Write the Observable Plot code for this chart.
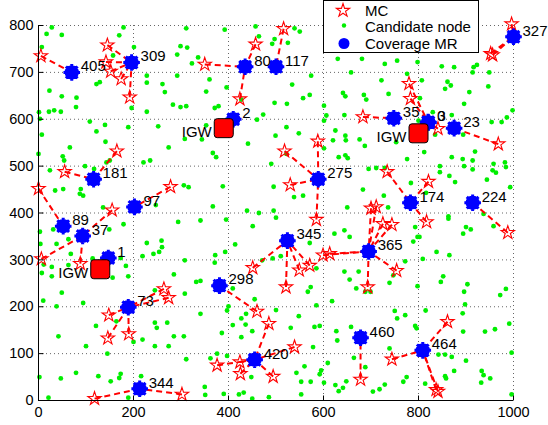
<!DOCTYPE html>
<html>
<head>
<meta charset="utf-8">
<script src="https://cdn.jsdelivr.net/npm/d3@7"></script>
<script src="https://cdn.jsdelivr.net/npm/@observablehq/plot@0.6"></script>
<style>
  body { margin: 0; background: #fff; }
  #chart { width: 548px; height: 425px; }
</style>
</head>
<body>
<div id="chart"></div>
<script>
// ---------- data ----------
const xTicks = [0, 200, 400, 600, 800, 1000];
const yTicks = [0, 100, 200, 300, 400, 500, 600, 700, 800];

// candidate nodes [x, y]
const candidates = [
  [28,796],[179,796],[17,782],[49,780],[170,779],[7,754],[201,754],[157,736],[129,679],[122,675],[228,693],[228,678],[23,661],[49,649],[80,646],[1,615],[22,616],[33,619],[47,616],[79,626],[196,624],[228,616],[3,601],[108,595],[140,588],[122,574],[7,567],[189,583],[141,552],[66,540],[0,526],[51,521],[54,512],[24,491],[98,500],[117,494],[143,508],[150,512],[221,508],[235,512],[35,448],[52,451],[89,451],[87,441],[94,437],[136,412],[247,417],
  [311,794],[392,791],[457,798],[464,777],[497,771],[492,761],[299,756],[313,753],[292,738],[336,732],[323,719],[292,693],[360,685],[261,675],[266,658],[353,659],[396,668],[283,631],[299,626],[311,628],[371,624],[379,628],[427,642],[497,635],[473,610],[460,599],[252,585],[353,587],[499,565],[308,558],[344,557],[441,548],[274,540],[367,528],[374,519],[490,505],[306,459],[316,455],[388,457],[495,456],[367,414],[439,405],[464,400],[495,405],
  [539,794],[550,787],[525,763],[630,729],[681,729],[729,718],[574,693],[658,700],[722,683],[534,674],[571,652],[557,645],[641,656],[646,649],[685,652],[690,642],[737,654],[601,629],[523,633],[606,608],[644,609],[601,597],[522,583],[548,570],[625,576],[646,565],[676,557],[620,555],[647,555],[687,543],[522,526],[632,519],[646,523],[651,517],[601,538],[695,494],[711,496],[729,496],[683,450],[557,437],[650,412],[727,437],[736,412],[538,434],
  [755,725],[798,722],[849,713],[875,711],[916,711],[923,716],[914,700],[949,700],[776,697],[807,683],[861,680],[868,672],[856,665],[947,670],[907,658],[803,645],[896,633],[998,619],[830,615],[870,609],[975,594],[986,604],[954,594],[800,597],[835,567],[894,567],[753,551],[812,530],[919,531],[776,515],[870,519],[893,515],[914,512],[958,505],[982,508],[845,500],[896,500],[914,493],[956,491],[963,486],[984,498],[845,487],[865,479],[877,466],[944,471],[784,464],[816,443],[993,455],[937,398],
  [3,360],[31,365],[4,334],[38,334],[63,344],[149,365],[179,376],[228,336],[68,313],[11,290],[7,272],[28,285],[28,265],[63,289],[114,303],[121,285],[184,287],[189,265],[156,262],[219,308],[242,313],[173,304],[49,230],[10,213],[38,201],[94,208],[245,235],[121,159],[164,169],[245,166],[249,155],[42,137],[100,116],[200,125],[145,100],[219,130],[245,116],[47,47],[79,59],[2,50],[126,52],[152,41],[170,48],[173,57],[21,6],[189,6],[216,52],
  [294,381],[341,384],[395,386],[451,372],[500,390],[259,341],[260,327],[254,317],[414,333],[393,317],[372,310],[308,299],[371,294],[471,299],[493,303],[285,269],[332,253],[341,255],[409,239],[308,228],[455,216],[400,201],[397,192],[500,193],[341,185],[437,185],[427,175],[271,166],[409,161],[436,162],[450,148],[386,144],[285,137],[306,137],[427,135],[274,116],[311,88],[362,90],[376,100],[397,95],[448,50],[350,29],[351,12],[390,14],[422,13],[432,17],[450,4],[485,7],
  [623,356],[644,363],[655,349],[571,336],[510,308],[585,282],[644,275],[674,275],[655,258],[739,251],[669,239],[573,242],[567,232],[688,232],[699,232],[618,212],[585,203],[548,180],[592,159],[581,157],[531,155],[627,148],[658,157],[629,128],[578,114],[739,111],[609,80],[664,91],[688,71],[560,73],[543,59],[592,56],[595,64],[553,40],[573,40],[601,38],[625,33],[648,41],[641,27],[632,20],[553,13],[704,19],[718,24],[729,34],
  [863,393],[863,388],[793,370],[900,370],[910,365],[894,356],[798,349],[802,349],[789,339],[958,372],[838,317],[865,310],[772,297],[809,302],[747,267],[852,265],[847,253],[798,244],[903,248],[896,232],[984,238],[972,225],[898,205],[750,191],[815,192],[772,182],[893,186],[755,175],[991,164],[793,159],[796,154],[894,147],[940,147],[961,152],[842,98],[856,98],[870,93],[900,85],[996,102],[875,63],[775,50],[768,40],[856,52],[858,47],[814,36],[933,63],[937,54],[951,47],[932,38],[996,13]
];

// coverage mesh routers
const mrLabel = ["405","309","80","117","2","327","35","0","3","23","181","97","275","174","224","89","37","1","345","365","298","73","460","464","420","344"];
const mrX =     [70,  196,  435, 500,  410,1000, 748, 820, 821, 875, 116, 202, 589, 783, 914, 52,  93,  147, 524, 695, 381, 189, 678, 809, 455, 213];
const mrY =     [700, 721,  712, 712,  600, 776, 602, 594, 593, 581, 472, 413, 472, 422, 422, 372, 351, 304, 341, 318, 245, 199, 134, 107, 87,  25];

// mesh clients and the MR each one attaches to
const mcX  = [5,  145, 142, 152, 174, 192, 350, 457, 424, 516, 996, 952, 956, 683, 780, 783, 841, 968, 588, 518, 530, 585, 734, 821, 817, 700, 711, 725, 744, 599, 613, 693, 754, 988, 165, 55,  0,   278, 155, 6,   88,  148, 146, 190, 264, 274, 118, 302, 451, 521, 549, 571, 460, 485, 376, 424, 425, 494, 539, 678, 744, 861, 837, 841];
const mcY  = [735,758, 722, 702, 686, 647, 717, 760, 643, 793, 803, 740, 737, 605, 676, 644, 580, 547, 553, 532, 460, 386, 488, 467, 381, 410, 413, 377, 375, 310, 313, 242, 277, 358, 532, 488, 452, 456, 406, 302, 292, 182, 133, 142, 238, 219, 4,   13,  283, 242, 278, 288, 190, 164, 75,  82,  57,  51,  114, 45,  88,  168, 23,  19];
const mcTo = ["405","309","309","309","309","309","80","80","80","117","327","327","327","35","0","0","3","23","275","275","275","275","174","174","174","365","365","365","365","365","365","365","365","224","181","181","89","97","37","37","37","73","73","73","73","73","344","344","345","345","345","345","298","420","420","420","420","420","420","460","464","464","464","464"];

// internet gateways
const igwX = [390, 130, 800];
const igwY = [581, 280, 570];
const igwText = "IGW";

// legend entries
const legendItems = ["MC", "Candidate node", "Coverage MR"];

// ---------- tables ----------
const mr = mrLabel.map((label, i) => ({label, x: mrX[i], y: mrY[i]}));
const mc = mcX.map((x, i) => ({x, y: mcY[i], to: mcTo[i]}));
const links = mc.map(d => {
  const j = mrLabel.indexOf(d.to);
  return {x1: d.x, y1: d.y, x2: mrX[j], y2: mrY[j]};
});
const igw = igwX.map((x, i) => ({x, y: igwY[i]}));

// ---------- custom symbols ----------
const mrSymbol = {
  draw(ctx, size) {
    const r = Math.sqrt(size / Math.PI);
    const rc = r * 0.68;
    ctx.moveTo(rc, 0);
    ctx.arc(0, 0, rc, 0, 2 * Math.PI);
    for (let k = 0; k < 8; k++) {
      const a = k * Math.PI / 4;
      ctx.moveTo(0, 0);
      ctx.lineTo(r * Math.cos(a), r * Math.sin(a));
    }
  }
};
const roundSquare = {
  draw(ctx, size) {
    const h = Math.sqrt(size / Math.PI);
    const c = 3;
    ctx.moveTo(-h + c, -h);
    ctx.lineTo(h - c, -h);
    ctx.arcTo(h, -h, h, -h + c, c);
    ctx.lineTo(h, h - c);
    ctx.arcTo(h, h, h - c, h, c);
    ctx.lineTo(-h + c, h);
    ctx.arcTo(-h, h, -h, h - c, c);
    ctx.lineTo(-h, -h + c);
    ctx.arcTo(-h, -h, -h + c, -h, c);
    ctx.closePath();
  }
};
const tickRight = {draw(ctx) { ctx.moveTo(0, 0); ctx.lineTo(5, 0); }};
const tickUp = {draw(ctx) { ctx.moveTo(0, 0); ctx.lineTo(0, -5); }};

const FONT = '"Liberation Sans", Arial, Helvetica, sans-serif';

const chart = Plot.plot({
  width: 548,
  height: 425,
  marginLeft: 38,
  marginRight: 35,
  marginTop: 25,
  marginBottom: 25,
  x: {domain: [0, 1000]},
  y: {domain: [0, 800]},
  style: {fontFamily: FONT, fontSize: "14.5px", background: "white", color: "black", overflow: "visible"},
  marks: [
    Plot.gridX(xTicks, {stroke: "#555", strokeOpacity: 0.9, strokeDasharray: "1,3"}),
    Plot.gridY(yTicks, {stroke: "#555", strokeOpacity: 0.9, strokeDasharray: "1,3"}),
    Plot.axisX(xTicks, {tickSize: 0, tickPadding: 6, fontSize: 14.5, tickFormat: d => String(d)}),
    Plot.axisY(yTicks, {tickSize: 0, tickPadding: 5, fontSize: 14.5, tickFormat: d => String(d)}),
    Plot.dot(candidates, {x: d => d[0], y: d => d[1], r: 2.4, fill: "#00ee00"}),
    Plot.link(links, {x1: "x1", y1: "y1", x2: "x2", y2: "y2", stroke: "#ff0000", strokeWidth: 2, strokeDasharray: "6,4"}),
    Plot.dot(mc, {x: "x", y: "y", symbol: "star", r: 4.2, fill: "none", stroke: "#ff0000", strokeWidth: 1.1}),
    Plot.dot(mr, {x: "x", y: "y", r: 8.3, symbol: mrSymbol, fill: "#0000ff", stroke: "#0000ff", strokeWidth: 3}),
    Plot.dot(igw, {x: "x", y: "y", r: 9.5, symbol: roundSquare, fill: "#ff0000", stroke: "#000", strokeWidth: 1}),
    Plot.text(mr, {x: "x", y: "y", text: "label", dx: 9, dy: -6, textAnchor: "start", fontSize: 15, fill: "black"}),
    Plot.text(igw, {x: "x", y: "y", text: () => igwText, dx: -12, dy: 4, textAnchor: "end", fontSize: 15, fill: "black"}),
    Plot.ruleX([0], {stroke: "black", strokeWidth: 1}),
    Plot.ruleY([0], {stroke: "black", strokeWidth: 1}),
    Plot.dot(yTicks, {x: () => 0, y: d => d, symbol: tickRight, fill: "none", stroke: "black", strokeWidth: 1}),
    Plot.dot(xTicks, {x: d => d, y: () => 0, symbol: tickUp, fill: "none", stroke: "black", strokeWidth: 1})
  ]
});

// ---------- legend (drawn over the plot, top-right) ----------
const svg = d3.select(chart);
const lg = svg.append("g").attr("font-family", FONT).attr("font-size", 15).attr("text-anchor", "start");
lg.append("rect").attr("x", 323.5).attr("y", 0.5).attr("width", 155).attr("height", 52)
  .attr("fill", "white").attr("stroke", "black").attr("stroke-width", 1);
const rows = [10.5, 27, 43.5];
lg.append("path").attr("transform", `translate(343,${rows[0]})`)
  .attr("d", d3.symbol(d3.symbolStar, Math.PI * 4.2 * 4.2)())
  .attr("fill", "none").attr("stroke", "#ff0000").attr("stroke-width", 1.1);
lg.append("circle").attr("cx", 344).attr("cy", rows[1] - 1.5).attr("r", 2.2).attr("fill", "#00ee00");
lg.append("circle").attr("cx", 344).attr("cy", rows[2]).attr("r", 5.5).attr("fill", "#0000ff");
legendItems.forEach((t, i) => {
  lg.append("text").attr("x", 365).attr("y", rows[i]).attr("dy", "0.35em")
    .attr("text-anchor", "start").attr("fill", "black").text(t);
});

document.getElementById("chart").appendChild(chart);
</script>
</body>
</html>
